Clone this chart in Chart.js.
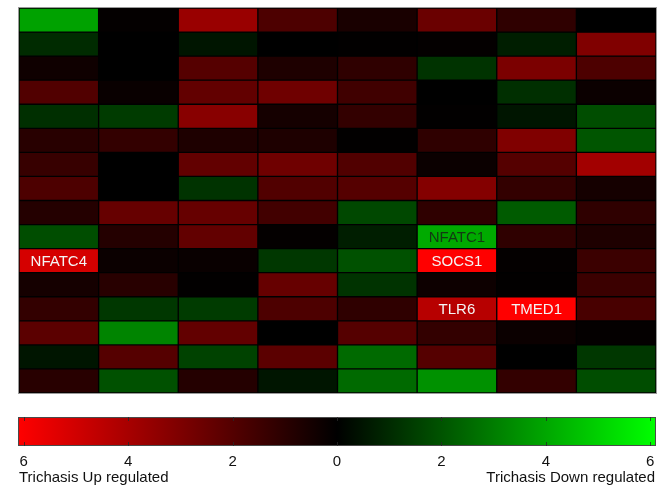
<!DOCTYPE html>
<html>
<head>
<meta charset="utf-8">
<script src="https://cdn.jsdelivr.net/npm/chart.js@4"></script>
<style>
    html, body { margin: 0; padding: 0; background: #ffffff; }
    #wrap { position: relative; width: 664px; height: 487px; }
    #heat { position: absolute; left: 0; top: 0; }
    #bar { position: absolute; left: 0; top: 400px; }
</style>
</head>
<body>
<div id="wrap">
    <canvas id="heat" width="664" height="400"></canvas>
    <canvas id="bar" width="664" height="87"></canvas>
</div>
<script>
// fold change per cell, positive = up regulated (red), negative = down (green)
const columns = ['C1', 'C2', 'C3', 'C4', 'C5', 'C6', 'C7', 'C8'];
const values = [
    [-3.8, 0.1, 3.6, 1.8, 0.6, 2.5, 1.1, 0.0],
    [-1.0, 0.0, -0.5, 0.0, 0.05, 0.1, -0.7, 3.0],
    [0.35, 0.0, 2.0, 0.7, 1.1, -1.2, 2.9, 1.8],
    [1.9, 0.2, 2.3, 2.6, 1.5, 0.0, -1.1, 0.25],
    [-1.1, -1.4, 3.2, 0.5, 1.2, 0.05, -0.5, -1.8],
    [0.95, 1.2, 0.7, 0.7, 0.05, 1.1, 3.0, -2.0],
    [1.3, 0.0, 2.3, 2.6, 1.9, 0.25, 2.0, 3.8],
    [1.8, 0.0, -1.2, 1.9, 2.0, 3.1, 1.2, 0.5],
    [0.85, 2.4, 2.4, 1.55, -1.7, 1.1, -2.15, 1.1],
    [-1.8, 0.85, 2.3, 0.1, -0.7, -4.0, 1.1, 0.7],
    [5.0, 0.25, 0.2, -1.3, -1.9, 6.0, 0.1, 1.4],
    [0.5, 0.95, 0.05, 2.4, -1.2, 0.3, 0.05, 1.4],
    [1.2, -1.3, -1.4, 1.8, 1.1, 4.3, 6.0, 1.7],
    [2.15, -3.1, 2.3, 0.0, 2.0, 1.2, 0.25, 0.1],
    [-0.5, 2.0, -1.55, 2.15, -2.5, 2.0, 0.0, -1.3],
    [0.95, -1.9, 0.85, -0.5, -2.5, -3.4, 1.2, -1.8]
];

// gene names written on some cells
const labelRows = [9, 10, 10, 12, 12];
const labelCols = [5, 0, 5, 5, 6];
const labelTexts = ['NFATC1', 'NFATC4', 'SOCS1', 'TLR6', 'TMED1'];

const colorbarTicks = [-6, -4, -2, 0, 2, 4, 6];
const colorMax = 6;
const colorbarMax = 6.11;

const FONT = '"Liberation Sans", Arial, sans-serif';

function cellColor(v) {
    const k = Math.min(Math.abs(v) / colorMax, 1);
    const c = Math.round(255 * k);
    return v >= 0 ? `rgb(${c},0,0)` : `rgb(0,${c},0)`;
}

const cellLabels = {
    id: 'cellLabels',
    beforeDatasetsDraw(chart) {
        // dark backing so the seams between cells stay dark
        const a = chart.chartArea;
        chart.ctx.save();
        chart.ctx.fillStyle = '#000000';
        chart.ctx.fillRect(a.left, a.top, a.right - a.left, a.bottom - a.top);
        chart.ctx.restore();
    },
    afterDatasetsDraw(chart) {
        const ctx = chart.ctx;
        ctx.save();
        ctx.font = `15px ${FONT}`;
        ctx.textAlign = 'center';
        ctx.textBaseline = 'middle';
        labelTexts.forEach((text, i) => {
            const el = chart.getDatasetMeta(labelRows[i]).data[labelCols[i]];
            const v = values[labelRows[i]][labelCols[i]];
            ctx.fillStyle = v < 0 ? '#123a12' : '#f4f4f4';
            ctx.fillText(text, el.x, (el.y + el.base) / 2 + 1);
        });
        // thin grey frame
        const a = chart.chartArea;
        ctx.strokeStyle = '#9a9a9a';
        ctx.lineWidth = 1;
        ctx.strokeRect(a.left - 0.5, a.top - 0.5, a.right - a.left + 1, a.bottom - a.top + 1);
        ctx.restore();
    }
};

new Chart(document.getElementById('heat'), {
    type: 'bar',
    data: {
        labels: columns,
        datasets: values.map((row, r) => ({
            label: 'row ' + (r + 1),
            data: row.map((v, c) => ({ x: columns[c], y: 1, v })),
            backgroundColor: ctx => cellColor(ctx.raw.v),
            borderColor: 'rgba(0,0,0,0.3)',
            borderWidth: 1,
            borderSkipped: false,
            barPercentage: 1,
            categoryPercentage: 1
        }))
    },
    options: {
        responsive: false,
        animation: false,
        layout: { padding: { left: 19, right: 8, top: 8, bottom: 7 } },
        plugins: { legend: { display: false }, tooltip: { enabled: false } },
        scales: {
            x: { stacked: true, display: false },
            y: { stacked: true, display: false, reverse: true, min: 0, max: values.length }
        }
    },
    plugins: [cellLabels]
});

const colorbarDecor = {
    id: 'colorbarDecor',
    afterDraw(chart) {
        const ctx = chart.ctx;
        const a = chart.chartArea;
        const xs = chart.scales.x;
        ctx.save();
        ctx.strokeStyle = '#4a4a4a';
        ctx.lineWidth = 1;
        ctx.strokeRect(a.left + 0.5, a.top + 0.5, a.right - a.left - 1, a.bottom - a.top - 1);
        ctx.strokeStyle = 'rgba(40,40,40,0.8)';
        colorbarTicks.forEach(t => {
            const x = Math.round(xs.getPixelForValue(t)) + 0.5;
            ctx.beginPath();
            ctx.moveTo(x, a.top); ctx.lineTo(x, a.top + 4);
            ctx.moveTo(x, a.bottom); ctx.lineTo(x, a.bottom - 4);
            ctx.stroke();
        });
        ctx.fillStyle = '#111111';
        ctx.font = `15px ${FONT}`;
        ctx.textBaseline = 'middle';
        ctx.textAlign = 'left';
        ctx.fillText('Trichasis Up regulated', a.left + 1, 78);
        ctx.textAlign = 'right';
        ctx.fillText('Trichasis Down regulated', a.right - 1, 78);
        ctx.restore();
    }
};

new Chart(document.getElementById('bar'), {
    type: 'bar',
    data: {
        labels: ['scale'],
        datasets: [{
            data: [[-colorbarMax, colorbarMax]],
            backgroundColor: ctx => {
                const a = ctx.chart.chartArea;
                if (!a) return '#000';
                const g = ctx.chart.ctx.createLinearGradient(a.left, 0, a.right, 0);
                g.addColorStop(0, cellColor(colorbarMax));
                g.addColorStop(0.5, cellColor(0));
                g.addColorStop(1, cellColor(-colorbarMax));
                return g;
            },
            borderWidth: 0,
            barPercentage: 1,
            categoryPercentage: 1
        }]
    },
    options: {
        indexAxis: 'y',
        responsive: false,
        animation: false,
        layout: { padding: { left: 18, right: 8, top: 17, bottom: 12 } },
        plugins: { legend: { display: false }, tooltip: { enabled: false } },
        scales: {
            x: {
                min: -colorbarMax,
                max: colorbarMax,
                reverse: true,
                afterBuildTicks: scale => { scale.ticks = colorbarTicks.map(v => ({ value: v })); },
                grid: { display: false, drawTicks: false },
                border: { display: false },
                ticks: {
                    padding: 7,
                    maxRotation: 0,
                    autoSkip: false,
                    color: '#111111',
                    font: { family: FONT, size: 15 },
                    callback: v => Math.abs(v)
                }
            },
            y: { display: false }
        }
    },
    plugins: [colorbarDecor]
});
</script>
</body>
</html>
